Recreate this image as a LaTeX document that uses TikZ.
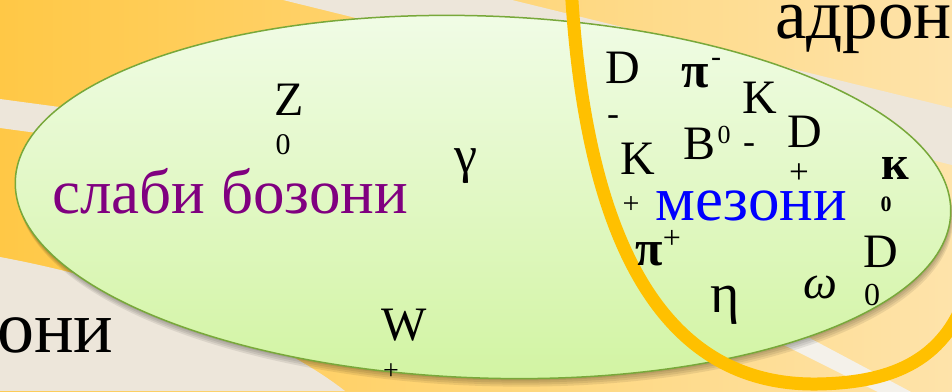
\documentclass[tikz,border=0pt]{standalone}
\usepackage{fontspec}
\setmainfont{Liberation Serif}
\usepackage{xcolor}
\definecolor{bgorange}{RGB}{255,200,70}
\definecolor{bglight}{RGB}{254,227,170}
\definecolor{bgcream}{RGB}{237,230,218}
\definecolor{bgstreak}{RGB}{244,241,234}
\definecolor{leaftop}{RGB}{241,252,231}
\definecolor{leafbot}{RGB}{210,244,163}
\definecolor{leafedge}{RGB}{120,168,58}
\definecolor{ringgold}{RGB}{255,192,0}
\definecolor{bosonpurple}{RGB}{128,0,128}
\definecolor{mesonblue}{RGB}{0,0,255}
\usetikzlibrary{positioning}
\newcommand{\pfont}[1]{\fontsize{#1}{#1}\selectfont}

\begin{document}
\begin{tikzpicture}[x=1pt, y=-1pt, every node/.style={inner sep=0pt}]

% Frame
\useasboundingbox (0,0) rectangle (952,391);
\clip (0,0) rectangle (952,391);

% --- Background with streaks ---
\shade[left color=bgorange, right color=bglight] (0,0) rectangle (952,391);
\fill[bgcream] (283,0) -- (512,0) -- (952,108) -- (952,165) -- cycle;
\fill[bgcream] (0,99) -- (260,134) -- (260,163) -- (0,128) -- cycle;
\fill[bgcream] (0,257) .. controls (150,285) and (280,340) .. (345,391) -- (0,391) -- cycle;
\fill[bgstreak] (740,301) -- (930,402) -- (898,402) -- (740,323) -- cycle;

% --- Weak bosons set (green) ---
\foreach \o in {2,4,6,8} {
  \fill[black, opacity=0.08, rotate around={-2:(483+0.3*\o,197+\o)}]
    (483+0.3*\o,197+\o) ellipse [x radius=468pt, y radius=181pt];
}
\draw[draw=leafedge, line width=1.5pt, top color=leaftop, bottom color=leafbot,
      rotate around={-2:(483,197)}] (483,197) ellipse [x radius=468pt, y radius=181pt];

% --- Hadron set (gold ring) ---
\draw[ringgold, line width=13pt] (571,-15) .. controls (585,240) and (662,386) .. (817,384)
  .. controls (885,383) and (945,365) .. (968,290);

% --- Set labels ---
\node[anchor=base west, font=\pfont{63}, text=bosonpurple] (weak) at (52,213) {слаби бозони};
\node[anchor=base west, font=\pfont{63}, text=mesonblue] (mesons) at (655,220) {мезони};
\node[anchor=base west, font=\pfont{71}] (hadrons) at (775,38) {адрон};
\node[anchor=base west, font=\pfont{74}] (lefttail) at (-3,352) {они};

% --- Particle letters ---
\foreach \n/\x/\y/\t in {z/289/100/Z, w/404/325/W, d1/623/68/D, k1/760/98/K,
                         b/699/144/B, d2/805/132/D, k2/638/159/K, d3/881/252/D,
                         kb/895/168/{\bfseries к}, om/820/287/{\itshape ω}} {
  \node[font=\pfont{48}] (\n) at (\x,\y) {\t};
}
\node[font=\pfont{50}\bfseries] (pim) at (695,76) {π};
\node[font=\pfont{50}\bfseries] (pip) at (649,254) {π};
\node[font=\pfont{52}] (gam) at (466,166) {γ};
\node[font=\pfont{56}] (eta) at (725,305) {η};

% Charges and indices, set apart as printed
\foreach \n/\x/\y/\s/\t in {zc/283/145/30/0, wc/391/372/28/+, d1c/613/121/36/-,
                            pimc/716/62/30/-, k1c/749/149/36/-, bc/724/135/26/0,
                            d2c/799/174/35/+, kbc/886/204/22/{\bfseries 0},
                            k2c/631/205/30/+, pipc/672/239/32/+, d3c/872/295/32/0} {
  \node[font=\pfont{\s}] (\n) at (\x,\y) {\t};
}

\end{tikzpicture}
\end{document}
